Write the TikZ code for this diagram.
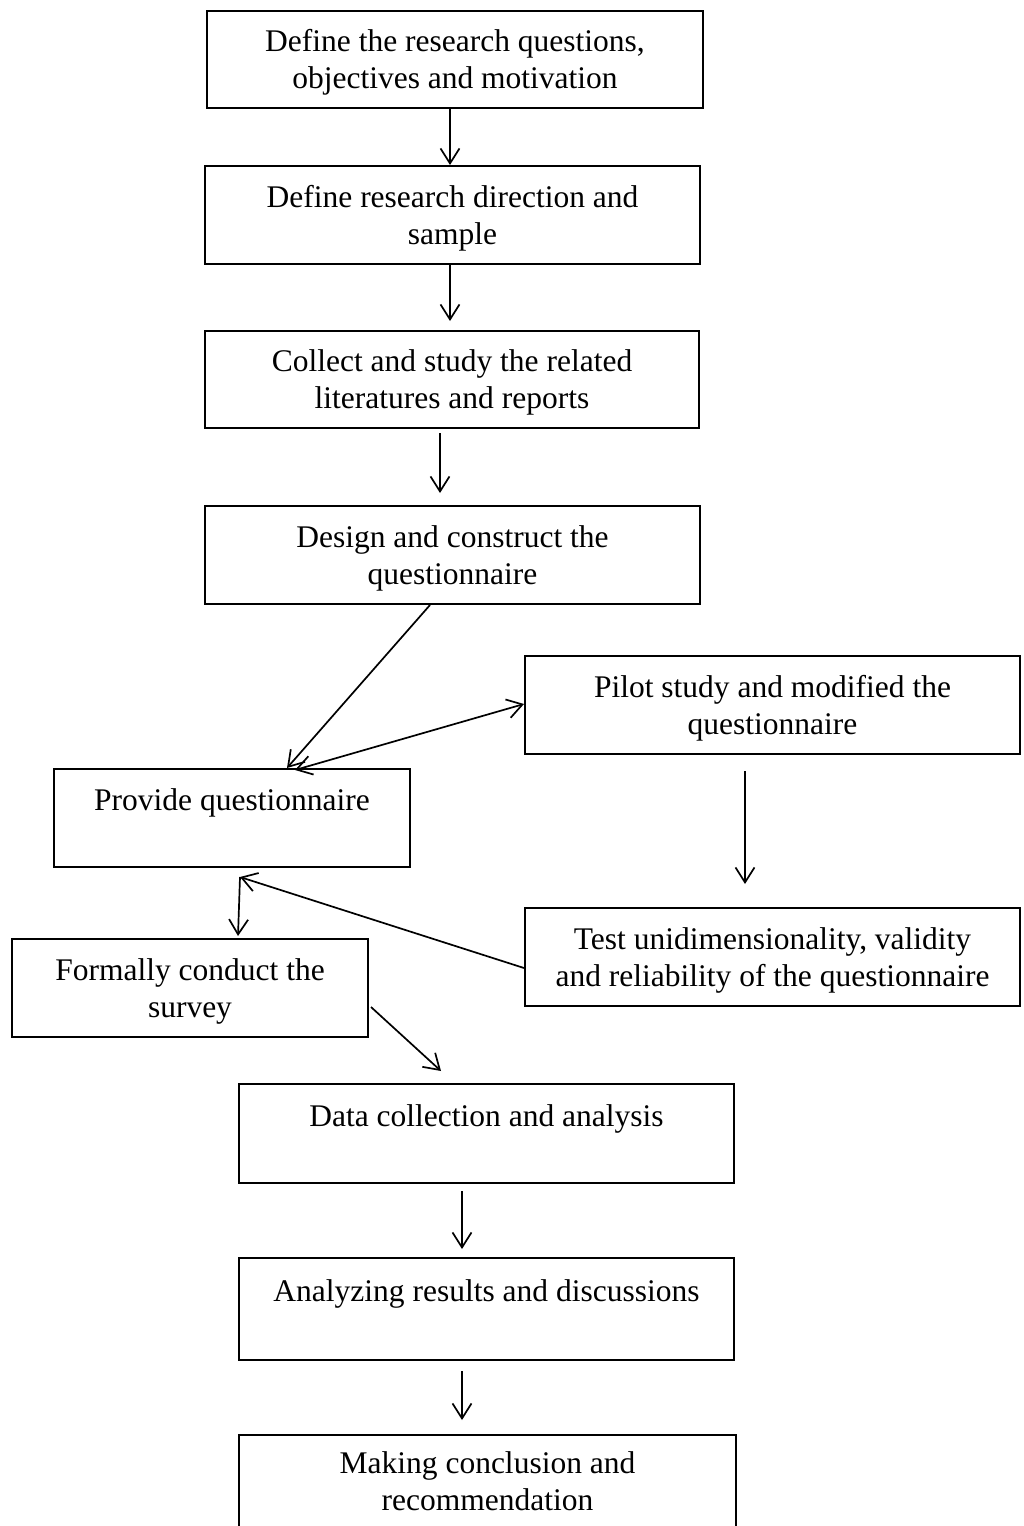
\documentclass[tikz,border=0pt]{standalone}
\usepackage{fontspec}
\setmainfont{Liberation Serif}
\usetikzlibrary{arrows.meta}
% extra head room on a first text line, and an empty second line
\newcommand\headroom{\rule{0pt}{28.5pt}}
\newcommand\blankline{\rule[-6pt]{0pt}{6pt}}
\begin{document}
\begin{tikzpicture}[x=1pt,y=-1pt,
  box/.style={draw, line width=2pt, inner sep=0pt, align=center,
    font=\fontsize{31.5}{37}\selectfont},
  arr/.style={line width=1.7pt, -{Straight Barb[length=15pt,width=19pt]}}]
\useasboundingbox (0,0) rectangle (1024,1526);
\clip (0,0) rectangle (1024,1526);

% process steps
\node[box,minimum width=496pt,minimum height=97pt] (b1) at (455,59.5)
  {\headroom Define the research questions,\\objectives and motivation};
\node[box,minimum width=495pt,minimum height=98pt] (b2) at (452.5,215)
  {\headroom Define research direction and\\sample};
\node[box,minimum width=494pt,minimum height=97pt] (b3) at (452,379.5)
  {\headroom Collect and study the related\\literatures and reports};
\node[box,minimum width=495pt,minimum height=98pt] (b4) at (452.5,555)
  {\headroom Design and construct the\\questionnaire};
\node[box,minimum width=495pt,minimum height=98pt] (b5) at (772.5,705)
  {\headroom Pilot study and modified the\\questionnaire};
\node[box,minimum width=356pt,minimum height=98pt] (b6) at (232,818)
  {\headroom Provide questionnaire\\\blankline};
\node[box,minimum width=495pt,minimum height=98pt] (b7) at (772.5,957)
  {\headroom Test unidimensionality, validity\\and reliability of the questionnaire};
\node[box,minimum width=356pt,minimum height=98pt] (b8) at (190,988)
  {\headroom Formally conduct the\\survey};
\node[box,minimum width=495pt,minimum height=99pt] (b9) at (486.5,1133.5)
  {\headroom Data collection and analysis\\\blankline};
\node[box,minimum width=495pt,minimum height=102pt] (b10) at (486.5,1309)
  {\headroom Analyzing results and discussions\\\blankline};
\node[box,minimum width=497pt,minimum height=92pt] (b11) at (487.5,1481)
  {Making conclusion and\\recommendation};

% connectors
\draw[arr] ([xshift=-5pt]b1.south) -- ([xshift=-2.5pt]b2.north);
\draw[arr] ([xshift=-2.5pt]b2.south) -- ([xshift=-2pt,yshift=9pt]b3.north);
\draw[arr] ([xshift=-12pt,yshift=-4pt]b3.south) -- ([xshift=-12.5pt,yshift=12pt]b4.north);
\draw[arr] ([xshift=-22.5pt]b4.south) -- ([xshift=55pt]b6.north);
\draw[line width=1.7pt, {Straight Barb[length=15pt,width=19pt]}-{Straight Barb[length=15pt,width=19pt]}]
  ([xshift=63pt,yshift=-2pt]b6.north) -- ([yshift=1pt]b5.west);
\draw[arr] ([xshift=-27.5pt,yshift=-16pt]b5.south) -- ([xshift=-27.5pt,yshift=23pt]b7.north);
\coordinate (j6) at ([xshift=8pt,yshift=-9pt]b6.south);
\draw[arr] ([yshift=-11pt]b7.west) -- (j6);
\draw[arr] (j6) -- ([xshift=48pt,yshift=2pt]b8.north);
\draw[arr] ([xshift=2pt,yshift=-19pt]b8.east) -- ([xshift=-45.5pt,yshift=12pt]b9.north);
\draw[arr] ([xshift=-24.5pt,yshift=-7pt]b9.south) -- ([xshift=-24.5pt,yshift=8pt]b10.north);
\draw[arr] ([xshift=-24.5pt,yshift=-10pt]b10.south) -- ([xshift=-25.5pt,yshift=14pt]b11.north);
\end{tikzpicture}
\end{document}
